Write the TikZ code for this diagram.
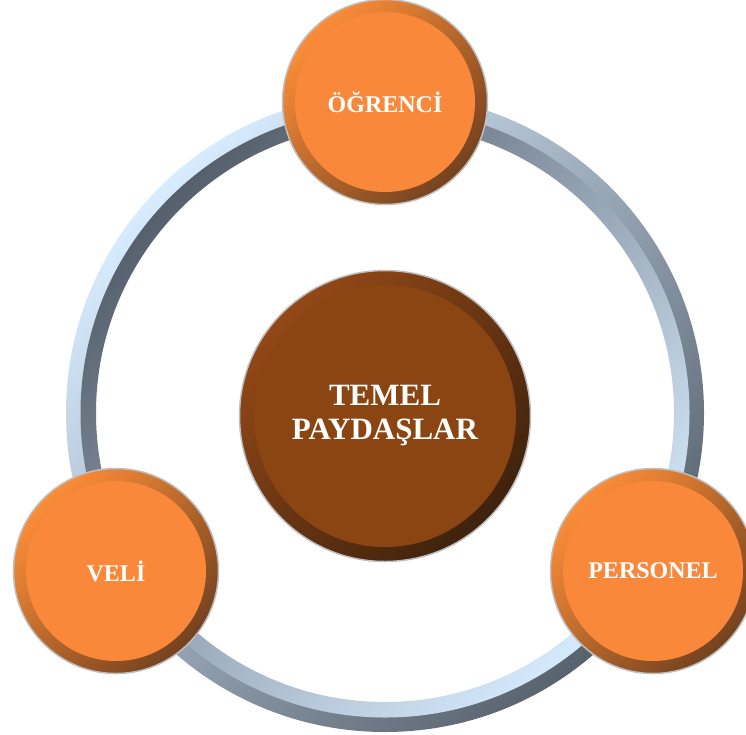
\documentclass[tikz,border=0pt]{standalone}
\usepackage{fontspec}
\setmainfont{Liberation Serif}
\definecolor{orface}{HTML}{F9883A}
\definecolor{orhi}{HTML}{FB8D38}
\definecolor{orlo}{HTML}{74421F}
\definecolor{brface}{HTML}{8B4513}
\definecolor{brhi}{HTML}{934817}
\definecolor{brlo}{HTML}{3E220D}
\definecolor{ringhi}{HTML}{D8ECFF}
\definecolor{ringlo}{HTML}{58626E}
\definecolor{ringdk}{HTML}{56606D}
\definecolor{ringlt}{HTML}{D6EAFD}
\definecolor{rimgray}{HTML}{BFBFBF}
\begin{document}
\begin{tikzpicture}[x=1pt,y=-1pt]
\useasboundingbox (0,0) rectangle (746,734);
\tikzset{
  smallc/.style={circle, minimum size=205pt, inner sep=0pt, draw=rimgray, line width=1.5pt,
    top color=orhi, bottom color=orlo, shading angle=45,
    text=white, font=\fontsize{24}{28}\selectfont\bfseries,
    path picture={\fill[orface] (path picture bounding box.center) circle[radius=90];}},
  bigc/.style={circle, minimum size=291pt, inner sep=0pt, draw=rimgray, line width=1.5pt,
    top color=brhi, bottom color=brlo, shading angle=45,
    text=white, align=center, font=\fontsize{31}{34}\selectfont\bfseries,
    path picture={\fill[brface] (path picture bounding box.center) circle[radius=131];}}
}
\coordinate (c) at (385,413);
% ring: outer band and inner band
\shade[even odd rule, top color=ringhi, bottom color=ringlo, shading angle=45]
  (c) circle[radius=319] (c) circle[radius=304];
\shade[even odd rule, top color=ringdk, bottom color=ringlt, shading angle=45]
  (c) circle[radius=304.5] (c) circle[radius=289];
% nodes
\node[bigc] (center) at (385,416) {TEMEL\\PAYDAŞLAR};
\node[smallc] (ogr) at (385,102) {ÖĞRENCİ};
\node[smallc] (veli) at (116,571) {VELİ};
\node[smallc] (pers) at (653,571) {PERSONEL};
\end{tikzpicture}
\end{document}
